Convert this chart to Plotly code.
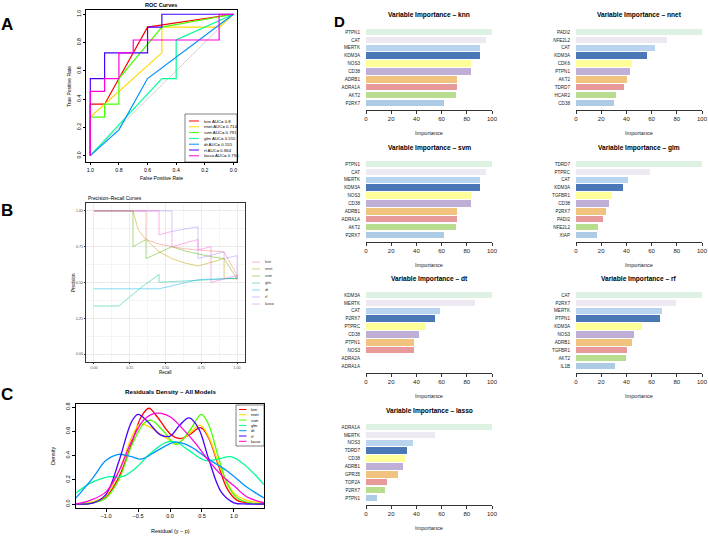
import plotly.graph_objects as go

# ---------------- data ----------------
models = ["knn", "nnet", "svm", "glm", "dt", "rf", "lasso"]
auc = [0.8, 0.714, 0.791, 0.555, 0.555, 0.864, 0.794]

# ROC curves: specificity (x, reversed) / sensitivity (y)
roc_knn_spec = [1, 1, 0.9, 0.6, 0]
roc_knn_sens = [0, 0.364, 0.364, 0.909, 1]
roc_nnet_spec = [1, 1, 0.5, 0.5, 0.1, 0]
roc_nnet_sens = [0, 0.273, 0.727, 0.909, 0.909, 1]
roc_svm_spec = [1, 1, 0.9, 0.9, 0.8, 0.8, 0.5, 0]
roc_svm_sens = [0, 0.273, 0.273, 0.364, 0.364, 0.545, 0.909, 1]
roc_glm_spec = [1, 0.5, 0.4, 0.4, 0]
roc_glm_sens = [0, 0.545, 0.545, 0.818, 1]
roc_dt_spec = [1, 0.8, 0.6, 0]
roc_dt_sens = [0, 0.182, 0.545, 1]
roc_rf_spec = [1, 1, 0.9, 0.9, 0.6, 0.6, 0.5, 0.5, 0]
roc_rf_sens = [0, 0.545, 0.545, 0.727, 0.727, 0.909, 0.909, 1, 1]
roc_lasso_spec = [1, 1, 0.9, 0.9, 0.8, 0.8, 0.7, 0.7, 0.1, 0.1, 0]
roc_lasso_sens = [0, 0.455, 0.455, 0.545, 0.545, 0.727, 0.727, 0.818, 0.818, 1, 1]

# Precision-recall curves
pr_knn_rec = [0, 0.364, 0.364, 0.45, 0.545, 0.636, 0.727, 0.818, 0.909, 1.0, 1.0]
pr_knn_prec = [1, 1, 0.8, 0.77, 0.75, 0.735, 0.727, 0.72, 0.714, 0.55, 0.524]
pr_nnet_rec = [0, 0.273, 0.31, 0.364, 0.455, 0.545, 0.636, 0.727, 0.909, 0.909, 1.0]
pr_nnet_prec = [1, 1, 0.867, 0.8, 0.714, 0.667, 0.636, 0.615, 0.667, 0.53, 0.524]
pr_svm_rec = [0, 0.273, 0.273, 0.364, 0.364, 0.545, 0.636, 0.727, 0.818, 0.909, 0.95, 1.0]
pr_svm_prec = [1, 1, 0.75, 0.8, 0.667, 0.75, 0.72, 0.70, 0.68, 0.667, 0.6, 0.524]
pr_glm_rec = [0, 0.175, 0.25, 0.35, 0.455, 0.455, 0.727, 1.0]
pr_glm_prec = [0.336, 0.336, 0.40, 0.48, 0.556, 0.502, 0.515, 0.53]
pr_dt_rec = [0, 0.455, 0.727, 1.0]
pr_dt_prec = [0.456, 0.456, 0.52, 0.53]
pr_rf_rec = [0, 0.545, 0.545, 0.727, 0.727, 0.909, 0.909, 1.0, 1.0]
pr_rf_prec = [1, 1, 0.857, 0.889, 0.667, 0.714, 0.667, 0.6875, 0.524]
pr_lasso_rec = [0, 0.455, 0.455, 0.545, 0.545, 0.727, 0.727, 0.818, 0.818, 1.0, 1.0]
pr_lasso_prec = [1, 1, 0.833, 0.857, 0.75, 0.8, 0.727, 0.75, 0.5, 0.55, 0.524]

# Residual densities
dens_knn_x = [-1.47, -1.2, -1.0, -0.8, -0.6, -0.45, -0.33, -0.2, 0.0, 0.15, 0.3, 0.48, 0.6, 0.75, 0.9, 1.05, 1.2, 1.47]
dens_knn_y = [0.0, 0.01, 0.06, 0.22, 0.5, 0.72, 0.79, 0.72, 0.58, 0.54, 0.57, 0.63, 0.55, 0.33, 0.12, 0.03, 0.01, 0.0]
dens_nnet_x = [-1.47, -1.2, -1.0, -0.8, -0.6, -0.47, -0.3, -0.1, 0.1, 0.3, 0.47, 0.6, 0.8, 1.0, 1.2, 1.47]
dens_nnet_y = [0.0, 0.02, 0.07, 0.27, 0.55, 0.66, 0.63, 0.56, 0.5, 0.58, 0.65, 0.56, 0.28, 0.09, 0.03, 0.01]
dens_svm_x = [-1.47, -1.2, -1.0, -0.8, -0.6, -0.4, -0.29, -0.1, 0.1, 0.3, 0.49, 0.6, 0.75, 0.9, 1.05, 1.25, 1.47]
dens_svm_y = [0.0, 0.01, 0.05, 0.2, 0.48, 0.67, 0.69, 0.6, 0.49, 0.6, 0.74, 0.66, 0.4, 0.16, 0.05, 0.01, 0.0]
dens_glm_x = [-1.47, -1.25, -0.95, -0.75, -0.55, -0.3, -0.05, 0.1, 0.3, 0.55, 0.75, 0.95, 1.15, 1.47]
dens_glm_y = [0.09, 0.17, 0.225, 0.225, 0.29, 0.42, 0.51, 0.51, 0.44, 0.36, 0.37, 0.39, 0.33, 0.16]
dens_dt_x = [-1.47, -1.2, -1.0, -0.8, -0.6, -0.45, -0.2, 0.08, 0.3, 0.6, 0.9, 1.2, 1.47]
dens_dt_y = [0.05, 0.22, 0.36, 0.41, 0.39, 0.37, 0.44, 0.51, 0.48, 0.37, 0.27, 0.14, 0.05]
dens_rf_x = [-1.47, -1.2, -1.0, -0.8, -0.6, -0.5, -0.35, -0.15, 0.0, 0.15, 0.3, 0.45, 0.6, 0.8, 1.0, 1.2, 1.47]
dens_rf_y = [0.0, 0.01, 0.08, 0.35, 0.68, 0.74, 0.68, 0.57, 0.56, 0.65, 0.71, 0.62, 0.38, 0.1, 0.01, 0.0, 0.0]
dens_lasso_x = [-1.47, -1.25, -1.0, -0.8, -0.6, -0.4, -0.2, 0.0, 0.2, 0.4, 0.6, 0.8, 1.0, 1.2, 1.47]
dens_lasso_y = [0.0, 0.03, 0.1, 0.27, 0.52, 0.7, 0.75, 0.72, 0.62, 0.5, 0.36, 0.24, 0.15, 0.06, 0.01]

# Variable importance
knn_vars = ["PTPN1", "CAT", "MERTK", "KDM3A", "NOS3", "CD38", "ADRB1", "ADRA1A", "AKT2", "P2RX7"]
knn_imp = [100, 95.5, 90.7, 90.2, 83.6, 83.3, 72.5, 72.2, 71.7, 62.2]
nnet_vars = ["PADI2", "NFE2L2", "CAT", "KDM3A", "CDK6", "PTPN1", "AKT2", "TDRD7", "HCAR2", "CD38"]
nnet_imp = [100, 72.6, 62.5, 56.7, 44.3, 42.7, 40.6, 38.3, 31.4, 30.1]
svm_vars = ["PTPN1", "CAT", "MERTK", "KDM3A", "NOS3", "CD38", "ADRB1", "ADRA1A", "AKT2", "P2RX7"]
svm_imp = [100, 95.5, 90.7, 90.2, 83.6, 83.3, 72.5, 72.2, 71.7, 62.2]
glm_vars = ["TDRD7", "PTPRC", "CAT", "KDM3A", "TGFBR1", "CD38", "P2RX7", "PADI2", "NFE2L2", "XIAP"]
glm_imp = [100, 58.8, 41.4, 37.5, 28.5, 26.4, 23.5, 21.6, 17.2, 16.4]
dt_vars = ["KDM3A", "MERTK", "CAT", "P2RX7", "PTPRC", "CD38", "PTPN1", "NOS3", "ADRA2A", "ADRA1A"]
dt_imp = [100, 86.2, 58.7, 54.5, 47.4, 42.3, 37.8, 37.8, 0, 0]
rf_vars = ["CAT", "P2RX7", "MERTK", "PTPN1", "KDM3A", "NOS3", "ADRB1", "TGFBR1", "AKT2", "IL1B"]
rf_imp = [100, 79.2, 68.6, 67.0, 52.5, 46.4, 44.3, 40.4, 39.8, 31.1]
lasso_vars = ["ADRA1A", "MERTK", "NOS3", "TDRD7", "CD38", "ADRB1", "GPR35", "TOP2A", "P2RX7", "PTPN1"]
lasso_imp = [100, 54.8, 37.3, 32.5, 30.7, 29.1, 25.4, 16.7, 14.8, 8.7]

# ---------------- styling ----------------
W, H = 708, 536
FONT = "Liberation Sans, Arial, Helvetica, sans-serif"
rainbow7 = ["#FF0000", "#FFDB00", "#49FF00", "#00FF92", "#0092FF", "#4900FF", "#FF00DB"]
hue7 = ["#F8766D", "#C49A00", "#53B400", "#00C094", "#00B6EB", "#A58AFF", "#FB61D7"]
bar_colors = ["#DDF2E2", "#EEE8F3", "#B8D4EE", "#4A78B6", "#FFFF99",
              "#BFAED5", "#F2C27F", "#E89A9A", "#B9DD8E", "#AECBE5"]


def px_x(p):
    return p / W


def px_y(p):
    return 1 - p / H


def dom_x(l, r):
    return [l / W, r / W]


def dom_y(t, b):
    return [1 - b / H, 1 - t / H]


fig = go.Figure()
annotations = []
shapes = []


def text(x, y, s, size, bold=False, xanchor="center", yanchor="middle", angle=0, color="#000000"):
    annotations.append(dict(
        x=px_x(x), y=px_y(y), xref="paper", yref="paper",
        text=("<b>%s</b>" % s) if bold else s, showarrow=False,
        xanchor=xanchor, yanchor=yanchor, textangle=angle,
        font=dict(family=FONT, size=size, color=color)))


# ---------------- Panel A : ROC ----------------
roc_spec = [roc_knn_spec, roc_nnet_spec, roc_svm_spec, roc_glm_spec, roc_dt_spec, roc_rf_spec, roc_lasso_spec]
roc_sens = [roc_knn_sens, roc_nnet_sens, roc_svm_sens, roc_glm_sens, roc_dt_sens, roc_rf_sens, roc_lasso_sens]
fig.add_trace(go.Scatter(x=[1, 0], y=[0, 1], mode="lines", line=dict(color="#C8C8C8", width=0.8),
                         xaxis="x", yaxis="y", showlegend=False, hoverinfo="skip"))
for i, m in enumerate(models):
    fig.add_trace(go.Scatter(x=roc_spec[i], y=roc_sens[i], mode="lines", name=m,
                             line=dict(color=rainbow7[i], width=1.2),
                             xaxis="x", yaxis="y", showlegend=False))

axfont = dict(family=FONT, size=5.2, color="#000000")
layout_axes = {}
layout_axes["xaxis"] = dict(domain=dom_x(86, 237), anchor="y", range=[1.03, -0.025],
                            tickvals=[1, 0.8, 0.6, 0.4, 0.2, 0], tickformat=".1f",
                            showline=True, mirror=True, linecolor="#000", linewidth=0.6,
                            ticks="outside", ticklen=2.5, tickwidth=0.6, tickcolor="#000",
                            showgrid=False, zeroline=False, tickfont=axfont)
layout_axes["yaxis"] = dict(domain=dom_y(10, 162), anchor="x", range=[-0.045, 1.03],
                            tickvals=[0, 0.2, 0.4, 0.6, 0.8, 1.0], tickformat=".1f", tickangle=-90,
                            showline=True, mirror=True, linecolor="#000", linewidth=0.6,
                            ticks="outside", ticklen=2.5, tickwidth=0.6, tickcolor="#000",
                            showgrid=False, zeroline=False, tickfont=axfont)
text(161, 4.5, "ROC Curves", 5.5, bold=True)
text(161, 178, "False Positive Rate", 5)
text(69, 87, "True Positive Rate", 5, angle=-90)
# legend
shapes.append(dict(type="rect", xref="paper", yref="paper", x0=px_x(185), x1=px_x(237),
                   y0=px_y(162), y1=px_y(114), line=dict(color="#000", width=0.5), fillcolor="#FFFFFF"))
for i, m in enumerate(models):
    yy = 121 + 5.8 * i
    shapes.append(dict(type="line", xref="paper", yref="paper", x0=px_x(189), x1=px_x(199),
                       y0=px_y(yy), y1=px_y(yy), line=dict(color=rainbow7[i], width=1)))
    text(202, yy, "%s AUC= %s" % (m, auc[i]), 4.3, xanchor="left")

# ---------------- Panel B : PR ----------------
pr_rec = [pr_knn_rec, pr_nnet_rec, pr_svm_rec, pr_glm_rec, pr_dt_rec, pr_rf_rec, pr_lasso_rec]
pr_prec = [pr_knn_prec, pr_nnet_prec, pr_svm_prec, pr_glm_prec, pr_dt_prec, pr_rf_prec, pr_lasso_prec]
for i, m in enumerate(models):
    fig.add_trace(go.Scatter(x=pr_rec[i], y=pr_prec[i], mode="lines", name=m, opacity=0.6,
                             line=dict(color=hue7[i], width=0.8),
                             xaxis="x2", yaxis="y2", showlegend=False))
ggfont = dict(family=FONT, size=3.6, color="#4D4D4D")
for ax, an, dom in (("xaxis2", "y2", dom_x(86, 245)), ("yaxis2", "x2", dom_y(203, 362))):
    layout_axes[ax] = dict(domain=dom, anchor=an, range=[-0.055, 1.055],
                           tickvals=[0, 0.25, 0.5, 0.75, 1.0], tickformat=".2f",
                           showline=True, mirror=True, linecolor="#333333", linewidth=0.7,
                           ticks="outside", ticklen=1.5, tickwidth=0.5, tickcolor="#333333",
                           showgrid=True, gridcolor="#EBEBEB", gridwidth=0.6, zeroline=False,
                           minor=dict(dtick=0.125, tick0=0.125, showgrid=True, gridcolor="#F4F4F4",
                                      gridwidth=0.4, ticks=""),
                           tickfont=ggfont)
text(86, 199, "Precision–Recall Curves", 4.9, xanchor="left")
text(165, 372, "Recall", 4.5)
text(73, 283, "Precision", 4.5, angle=-90)
for i, m in enumerate(models):
    yy = 262 + 7 * i
    shapes.append(dict(type="line", xref="paper", yref="paper", x0=px_x(252), x1=px_x(260),
                       y0=px_y(yy), y1=px_y(yy), line=dict(color=hue7[i], width=0.8), opacity=0.6))
    text(263, yy, m, 3.8, xanchor="left", color="#333333")

# ---------------- Panel C : density ----------------
dens_x = [dens_knn_x, dens_nnet_x, dens_svm_x, dens_glm_x, dens_dt_x, dens_rf_x, dens_lasso_x]
dens_y = [dens_knn_y, dens_nnet_y, dens_svm_y, dens_glm_y, dens_dt_y, dens_rf_y, dens_lasso_y]
for i, m in enumerate(models):
    fig.add_trace(go.Scatter(x=dens_x[i], y=dens_y[i], mode="lines", name=m,
                             line=dict(color=rainbow7[i], width=1.3, shape="spline", smoothing=1.0),
                             xaxis="x3", yaxis="y3", showlegend=False))
dfont = dict(family=FONT, size=5.5, color="#000000")
layout_axes["xaxis3"] = dict(domain=dom_x(76, 264), anchor="y3", range=[-1.47, 1.47],
                             tickvals=[-1.0, -0.5, 0.0, 0.5, 1.0], tickformat=".1f",
                             showline=True, mirror=True, linecolor="#000", linewidth=0.6,
                             ticks="outside", ticklen=3, tickwidth=0.6, tickcolor="#000",
                             showgrid=False, zeroline=False, tickfont=dfont)
layout_axes["yaxis3"] = dict(domain=dom_y(404, 508), anchor="x3", range=[-0.033, 0.825],
                             tickvals=[0, 0.2, 0.4, 0.6, 0.8], tickformat=".1f", tickangle=-90,
                             showline=True, mirror=True, linecolor="#000", linewidth=0.6,
                             ticks="outside", ticklen=3, tickwidth=0.6, tickcolor="#000",
                             showgrid=False, zeroline=False, tickfont=dfont)
text(170, 391, "Residuals Density – All Models", 6.2, bold=True)
text(170, 531, "Residual (y − p)", 5.5)
text(53, 456, "Density", 5.5, angle=-90)
shapes.append(dict(type="rect", xref="paper", yref="paper", x0=px_x(236), x1=px_x(264),
                   y0=px_y(446), y1=px_y(405), line=dict(color="#000", width=0.5), fillcolor="#FFFFFF"))
for i, m in enumerate(models):
    yy = 409.5 + 5.3 * i
    shapes.append(dict(type="line", xref="paper", yref="paper", x0=px_x(239), x1=px_x(246.5),
                       y0=px_y(yy), y1=px_y(yy), line=dict(color=rainbow7[i], width=1)))
    text(249, yy, m, 3.9, xanchor="left")

# ---------------- Panel D : variable importance ----------------
bar_panels = [
    ("knn", knn_vars, knn_imp, 366, 32),
    ("nnet", nnet_vars, nnet_imp, 576, 32),
    ("svm", svm_vars, svm_imp, 366, 164),
    ("glm", glm_vars, glm_imp, 576, 164),
    ("dt", dt_vars, dt_imp, 366, 295),
    ("rf", rf_vars, rf_imp, 576, 295),
    ("lasso", lasso_vars, lasso_imp, 366, 427),
]
step = 71 / 9.0
for k, (name, vars_, imp, x0, b1) in enumerate(bar_panels):
    n = k + 4
    xa, ya = "x%d" % n, "y%d" % n
    fig.add_trace(go.Bar(x=imp, y=list(range(len(vars_))), orientation="h",
                         marker=dict(color=bar_colors, line=dict(width=0)), width=0.82,
                         xaxis=xa, yaxis=ya, showlegend=False, name=name))
    top = b1 - 0.886 * step
    bot = b1 + 71 + 7
    layout_axes["xaxis%d" % n] = dict(domain=dom_x(x0, x0 + 126), anchor=ya, range=[0, 100],
                                      tickvals=[0, 20, 40, 60, 80, 100],
                                      showline=True, linecolor="#333", linewidth=0.6,
                                      ticks="outside", ticklen=3, tickwidth=0.6, tickcolor="#333",
                                      showgrid=False, zeroline=False,
                                      tickfont=dict(family=FONT, size=6, color="#222222"))
    layout_axes["yaxis%d" % n] = dict(domain=dom_y(top, bot), anchor=xa,
                                      range=[(bot - b1) / step, (top - b1) / step],
                                      tickvals=list(range(len(vars_))), ticktext=vars_,
                                      ticks="", showline=False, showgrid=False, zeroline=False,
                                      ticklabelstandoff=5,
                                      tickfont=dict(family=FONT, size=4.6, color="#222222"))
    text(x0 + 63, b1 - 16.5, "Variable Importance – %s" % name, 6.6, bold=True)
    text(x0 + 63, b1 + 101, "Importance", 5.6, color="#222222")

# panel letters
text(7, 24, "A", 17, bold=True)
text(7, 210, "B", 17, bold=True)
text(7, 394, "C", 17, bold=True)
text(339, 21, "D", 15, bold=True)

fig.update_layout(
    template="none",
    width=W, height=H, margin=dict(l=0, r=0, t=0, b=0),
    paper_bgcolor="#FFFFFF", plot_bgcolor="rgba(0,0,0,0)",
    showlegend=False, annotations=annotations, shapes=shapes,
    font=dict(family=FONT, color="#000000"), bargap=0, **layout_axes)

fig.write_html("out.html")
